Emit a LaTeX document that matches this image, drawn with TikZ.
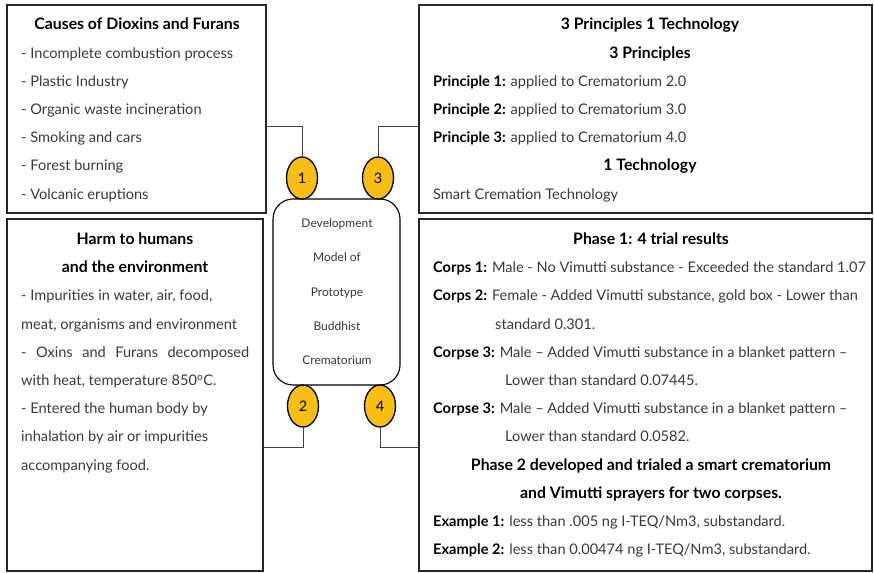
\documentclass[tikz,border=0pt]{standalone}
\usepackage{fontspec}
\setmainfont{Lato}
\usetikzlibrary{shapes.geometric}
\definecolor{gold}{HTML}{F9BE13}
\definecolor{txt}{HTML}{3A3A3A}
\begin{document}
\begin{tikzpicture}[x=1pt,y=-1pt,
  box/.style={draw=black!85,line width=1.6pt,inner sep=0pt,outer sep=0pt,rectangle},
  mid/.style={draw=black,line width=1.1pt,rounded corners=20pt,inner sep=0pt,outer sep=0pt,minimum width=127pt,minimum height=186pt},
  num/.style={ellipse,draw=black,line width=1.3pt,fill=gold,minimum width=31pt,minimum height=42pt,inner sep=0pt,outer sep=0pt,font=\fontsize{14.5}{16}\selectfont},
  conn/.style={draw=black!75,line width=0.9pt},
  tx/.style={anchor=mid west,inner sep=0pt,yshift=-2pt,text=txt,font=\fontsize{14.6}{16}\selectfont},
  hd/.style={anchor=mid,inner sep=0pt,yshift=-2pt,text=black,font=\fontsize{15.8}{17}\selectfont\bfseries},
  ct/.style={anchor=mid,inner sep=0pt,yshift=-1pt,text=txt,font=\fontsize{12}{13}\selectfont}]
\useasboundingbox (0,0) rectangle (874,572);
\fill[white] (0,0) rectangle (874,572);
% boxes
\node[box,minimum width=259pt,minimum height=208pt] (b1) at (136.5,109) {};
\node[box,minimum width=256pt,minimum height=352pt] (b2) at (135,395) {};
\node[box,minimum width=453pt,minimum height=208pt] (b3) at (645.5,109) {};
\node[box,minimum width=453pt,minimum height=352pt] (b4) at (645.5,395) {};
\node[mid] (c) at (336.5,292) {};
% ellipses
\node[num] (e1) at (302,178) {1};
\node[num] (e3) at (378,178) {3};
\node[num] (e2) at (303,406) {2};
\node[num] (e4) at (380,406) {4};
% connectors
\coordinate (k1) at (302,126);
\coordinate (k3) at (378,126);
\coordinate (k2) at (303,447);
\coordinate (k4) at (380,447);
\draw[conn] (e1.north) -- (k1) -- (b1.east |- k1);
\draw[conn] (e3.north) -- (k3) -- (b3.west |- k3);
\draw[conn] (e2.south) -- (k2) -- (b2.east |- k2);
\draw[conn] (e4.south) -- (k4) -- (b4.west |- k4);
% centre text
\node[ct] (c1) at (337,224) {Development};
\node[ct] (c2) at (337,258) {Model of};
\node[ct] (c3) at (337,293) {Prototype};
\node[ct] (c4) at (337,327) {Buddhist};
\node[ct] (c5) at (337,361) {Crematorium};
% box 1
\node[hd] (t1) at (137,25) {Causes of Dioxins and Furans};
\node[tx] (t1a) at (21,54) {- Incomplete combustion process};
\node[tx] (t1b) at (21,82) {- Plastic Industry};
\node[tx] (t1c) at (21,110) {- Organic waste incineration};
\node[tx] (t1d) at (21,138) {- Smoking and cars};
\node[tx] (t1e) at (21,166) {- Forest burning};
\node[tx] (t1f) at (21,195) {- Volcanic eruptions};
% box 2
\node[hd] (t2) at (135,240) {Harm to humans};
\node[hd] (t2b) at (135,268) {and the environment};
\node[tx] (t2c) at (21,296) {- Impurities in water, air, food,};
\node[tx] (t2d) at (21,325) {meat, organisms and environment};
\node[tx] (t2e) at (21,353) {\makebox[228pt][s]{- Oxins and Furans decomposed}};
\node[tx] (t2f) at (21,381) {with heat, temperature 850\textsuperscript{o}C.};
\node[tx] (t2g) at (21,409) {- Entered the human body by};
\node[tx] (t2h) at (21,437) {inhalation by air or impurities};
\node[tx] (t2i) at (21,466) {accompanying food.};
% box 3
\node[hd] (t3) at (650,25) {3 Principles 1 Technology};
\node[hd] (t3b) at (650,54) {3 Principles};
\node[tx] (t3c) at (433,82) {\textbf{\color{black}Principle 1:} applied to Crematorium 2.0};
\node[tx] (t3d) at (433,110) {\textbf{\color{black}Principle 2:} applied to Crematorium 3.0};
\node[tx] (t3e) at (433,138) {\textbf{\color{black}Principle 3:} applied to Crematorium 4.0};
\node[hd] (t3f) at (650,166) {1 Technology};
\node[tx] (t3g) at (433,195) {Smart Cremation Technology};
% box 4
\node[hd] (t4) at (651,240) {Phase 1: 4 trial results};
\node[tx] (t4a) at (433,268) {\textbf{\color{black}Corps 1:} Male - No Vimutti substance - Exceeded the standard 1.07};
\node[tx] (t4b) at (433,296) {\textbf{\color{black}Corps 2:} Female - Added Vimutti substance, gold box - Lower than};
\node[tx] (t4c) at (495,325) {standard 0.301.};
\node[tx] (t4d) at (433,353) {\textbf{\color{black}Corpse 3:} Male -- Added Vimutti substance in a blanket pattern --};
\node[tx] (t4e) at (505,381) {Lower than standard 0.07445.};
\node[tx] (t4f) at (433,409) {\textbf{\color{black}Corpse 3:} Male -- Added Vimutti substance in a blanket pattern --};
\node[tx] (t4g) at (505,437) {Lower than standard 0.0582.};
\node[hd] (t4h) at (651,466) {Phase 2 developed and trialed a smart crematorium};
\node[hd] (t4i) at (651,494) {and Vimutti sprayers for two corpses.};
\node[tx] (t4j) at (433,522) {\textbf{\color{black}Example 1:} less than .005 ng I-TEQ/Nm3, substandard.};
\node[tx] (t4k) at (433,550) {\textbf{\color{black}Example 2:} less than 0.00474 ng I-TEQ/Nm3, substandard.};
\end{tikzpicture}
\end{document}
